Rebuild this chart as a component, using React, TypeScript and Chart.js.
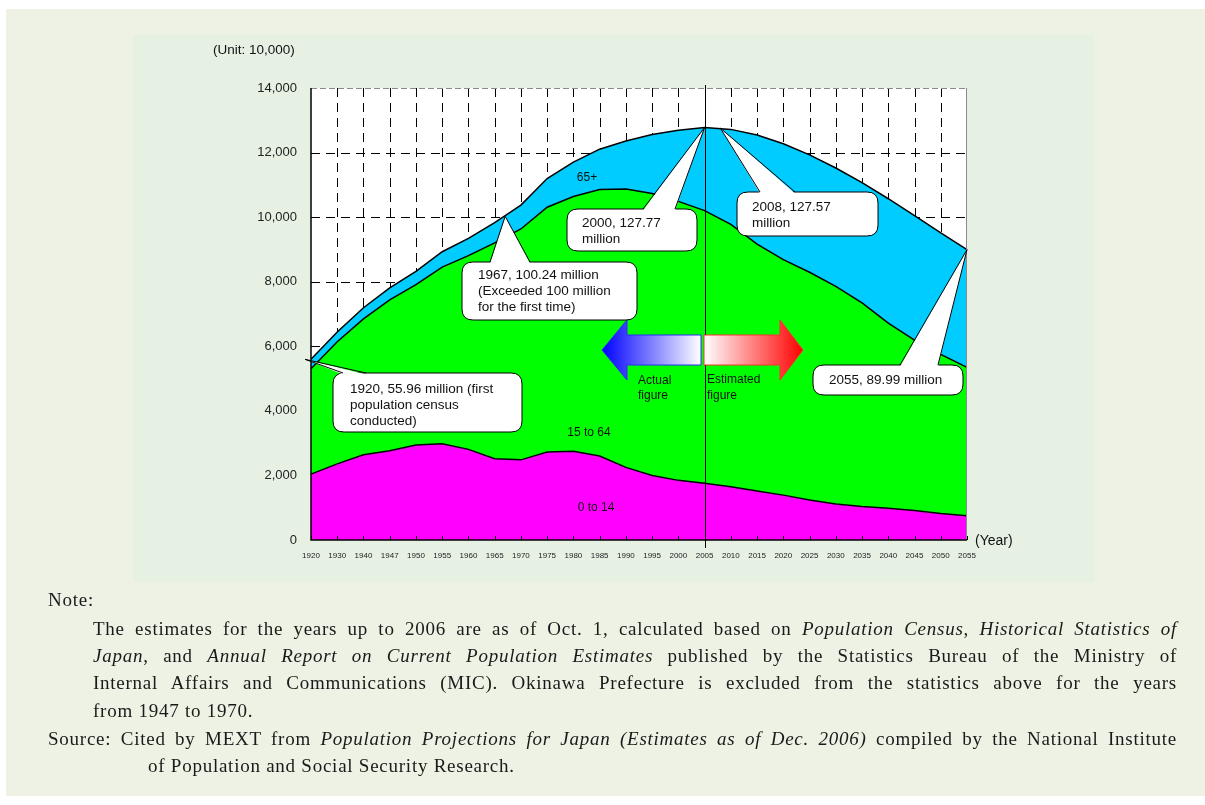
import React, { useEffect, useRef } from "react";
import { Chart, registerables } from "chart.js";

Chart.register(...registerables);

// Survey / projection years (category axis, evenly spaced)
const years = [
  "1920", "1930", "1940", "1947", "1950", "1955", "1960", "1965", "1970", "1975",
  "1980", "1985", "1990", "1995", "2000", "2005", "2010", "2015", "2020", "2025",
  "2030", "2035", "2040", "2045", "2050", "2055",
];

// Population by age group, unit: 10,000 people
const ages0to14 = [
  2041, 2359, 2638, 2762, 2943, 2980, 2807, 2517, 2482, 2722,
  2751, 2603, 2249, 2001, 1847, 1759, 1648, 1517, 1390, 1241,
  1115, 1035, 980, 916, 821, 752,
];
const ages15to64 = [
  3261, 3780, 4209, 4674, 4966, 5473, 6000, 6687, 7151, 7585,
  7890, 8255, 8623, 8730, 8642, 8442, 8129, 7648, 7294, 7051,
  6740, 6308, 5737, 5272, 4930, 4595,
];
const ages65plus = [
  294, 306, 346, 374, 411, 475, 535, 624, 739, 887,
  1065, 1247, 1489, 1826, 2204, 2576, 2941, 3378, 3590, 3635,
  3667, 3725, 3853, 3856, 3764, 3646,
];

const yMin = 0;
const yMax = 14000;
const yStep = 2000;
const estimateFrom = "2005";

const SANS = "'Liberation Sans', Arial, sans-serif";
const SERIF = "'Liberation Serif', 'Times New Roman', serif";

// Callout annotations: the pointer tip is placed on the axes from a year position and a value
type Callout = {
  lines: string[];
  box: [number, number, number, number]; // left, top, right, bottom
  base: [number, number]; // pointer base on the top edge (x from, x to)
  at: { index: number; frac: number; value: number; dx?: number };
  textX: number;
  textY: number;
};

const callouts: Callout[] = [
  {
    lines: ["1920, 55.96 million (first", "population census", "conducted)"],
    box: [333, 373, 522, 432],
    base: [343, 366],
    at: { index: 0, frac: 0, value: 5596, dx: -6 },
    textX: 350,
    textY: 389,
  },
  {
    lines: ["1967, 100.24 million", "(Exceeded 100 million", "for the first time)"],
    box: [462, 262, 637, 320],
    base: [490, 530],
    at: { index: 7, frac: 0.4, value: 10024 },
    textX: 478,
    textY: 275,
  },
  {
    lines: ["2000, 127.77", "million"],
    box: [567, 209, 697, 251],
    base: [643, 675],
    at: { index: 15, frac: 0, value: 12777 },
    textX: 582,
    textY: 223,
  },
  {
    lines: ["2008, 127.57", "million"],
    box: [737, 192, 878, 236],
    base: [760, 795],
    at: { index: 15, frac: 0.6, value: 12757 },
    textX: 752,
    textY: 207,
  },
  {
    lines: ["2055, 89.99 million"],
    box: [813, 365, 963, 395],
    base: [900, 938],
    at: { index: 25, frac: 0, value: 8993 },
    textX: 829,
    textY: 380,
  },
];

function roundRectPath(ctx: CanvasRenderingContext2D, l: number, t: number, r: number, b: number, rad: number) {
  ctx.beginPath();
  ctx.moveTo(l + rad, t);
  ctx.lineTo(r - rad, t);
  ctx.quadraticCurveTo(r, t, r, t + rad);
  ctx.lineTo(r, b - rad);
  ctx.quadraticCurveTo(r, b, r - rad, b);
  ctx.lineTo(l + rad, b);
  ctx.quadraticCurveTo(l, b, l, b - rad);
  ctx.lineTo(l, t + rad);
  ctx.quadraticCurveTo(l, t, l + rad, t);
  ctx.closePath();
}

const decorPlugin = {
  id: "decor",
  beforeDraw(chart: any) {
    const { ctx, chartArea: a } = chart;
    ctx.save();
    ctx.fillStyle = "#ffffff";
    ctx.fillRect(a.left, a.top, a.right - a.left, a.bottom - a.top);
    ctx.restore();
  },
  beforeDatasetsDraw(chart: any) {
    const { ctx, chartArea: a } = chart;
    const xs = chart.scales.x;
    const ys = chart.scales.y;
    ctx.save();
    ctx.strokeStyle = "#000";
    ctx.lineWidth = 1;
    ctx.setLineDash([9, 6]);
    for (let i = 1; i < years.length - 1; i++) {
      const x = Math.round(xs.getPixelForValue(i)) + 0.5;
      ctx.beginPath();
      ctx.moveTo(x, a.top);
      ctx.lineTo(x, a.bottom);
      ctx.stroke();
    }
    for (let v = yMin + yStep; v < yMax; v += yStep) {
      const y = Math.round(ys.getPixelForValue(v)) + 0.5;
      ctx.beginPath();
      ctx.moveTo(a.left, y);
      ctx.lineTo(a.right, y);
      ctx.stroke();
    }
    ctx.restore();
  },
  afterDatasetsDraw(chart: any) {
    const { ctx, chartArea: a } = chart;
    const xs = chart.scales.x;
    const ys = chart.scales.y;
    ctx.save();

    // frame: dashed grey top, grey right, black axes
    ctx.lineWidth = 1;
    ctx.strokeStyle = "#8a8a8a";
    ctx.setLineDash([6, 3]);
    ctx.beginPath();
    ctx.moveTo(a.left, a.top + 0.5);
    ctx.lineTo(a.right, a.top + 0.5);
    ctx.stroke();
    ctx.setLineDash([]);
    ctx.beginPath();
    ctx.moveTo(a.right - 0.5, a.top);
    ctx.lineTo(a.right - 0.5, a.bottom);
    ctx.stroke();
    ctx.strokeStyle = "#000";
    ctx.lineWidth = 1.5;
    ctx.beginPath();
    ctx.moveTo(a.left, a.top);
    ctx.lineTo(a.left, a.bottom);
    ctx.lineTo(a.right, a.bottom);
    ctx.stroke();

    // small inner tick marks along the year axis
    ctx.lineWidth = 1;
    for (let i = 0; i < years.length; i++) {
      const x = Math.round(xs.getPixelForValue(i)) + 0.5;
      ctx.beginPath();
      ctx.moveTo(x, a.bottom);
      ctx.lineTo(x, a.bottom - 4);
      ctx.stroke();
    }

    // divider between actual figures and estimates
    const xd = Math.round(xs.getPixelForValue(years.indexOf(estimateFrom))) + 0.5;
    ctx.beginPath();
    ctx.moveTo(xd, a.top - 3);
    ctx.lineTo(xd, a.bottom + 8);
    ctx.stroke();

    // age group labels
    ctx.fillStyle = "#111";
    ctx.font = `12px ${SANS}`;
    ctx.textAlign = "center";
    ctx.textBaseline = "middle";
    ctx.fillText("65+", 587, 178);
    ctx.fillText("15 to 64", 589, 433);
    ctx.fillText("0 to 14", 596, 508);

    // "actual" arrow (left, blue)
    const gBlue = ctx.createLinearGradient(602, 0, 701, 0);
    gBlue.addColorStop(0, "#0000ff");
    gBlue.addColorStop(1, "#ffffff");
    ctx.beginPath();
    ctx.moveTo(602, 350);
    ctx.lineTo(627, 320);
    ctx.lineTo(627, 335);
    ctx.lineTo(701, 335);
    ctx.lineTo(701, 365);
    ctx.lineTo(627, 365);
    ctx.lineTo(627, 380);
    ctx.closePath();
    ctx.fillStyle = gBlue;
    ctx.fill();
    ctx.strokeStyle = "#2a2aff";
    ctx.lineWidth = 1;
    ctx.stroke();

    // "estimated" arrow (right, red)
    const gRed = ctx.createLinearGradient(704, 0, 803, 0);
    gRed.addColorStop(0, "#ffffff");
    gRed.addColorStop(1, "#ff0000");
    ctx.beginPath();
    ctx.moveTo(704, 335);
    ctx.lineTo(780, 335);
    ctx.lineTo(780, 320);
    ctx.lineTo(803, 350);
    ctx.lineTo(780, 380);
    ctx.lineTo(780, 365);
    ctx.lineTo(704, 365);
    ctx.closePath();
    ctx.fillStyle = gRed;
    ctx.fill();
    ctx.strokeStyle = "#ff3030";
    ctx.stroke();

    ctx.fillStyle = "#111";
    ctx.textAlign = "left";
    ctx.fillText("Actual", 638, 381);
    ctx.fillText("figure", 638, 396);
    ctx.fillText("Estimated", 707, 380);
    ctx.fillText("figure", 707, 396);

    // callouts
    for (const c of callouts) {
      const [l, t, r, b] = c.box;
      const x0 = xs.getPixelForValue(c.at.index);
      const x1 = c.at.frac ? xs.getPixelForValue(c.at.index + 1) : x0;
      const tipX = x0 + (x1 - x0) * c.at.frac + (c.at.dx || 0);
      const tipY = ys.getPixelForValue(c.at.value);

      roundRectPath(ctx, l, t, r, b, 11);
      ctx.fillStyle = "#ffffff";
      ctx.fill();
      ctx.strokeStyle = "#000";
      ctx.lineWidth = 1;
      ctx.stroke();

      ctx.beginPath();
      ctx.moveTo(c.base[0], t + 1.5);
      ctx.lineTo(tipX, tipY);
      ctx.lineTo(c.base[1], t + 1.5);
      ctx.closePath();
      ctx.fill();
      ctx.beginPath();
      ctx.moveTo(c.base[0], t);
      ctx.lineTo(tipX, tipY);
      ctx.lineTo(c.base[1], t);
      ctx.stroke();

      ctx.fillStyle = "#111";
      ctx.font = `13.5px ${SANS}`;
      ctx.textAlign = "left";
      ctx.textBaseline = "middle";
      c.lines.forEach((s, k) => ctx.fillText(s, c.textX, c.textY + k * 16));
    }

    // axis captions
    ctx.fillStyle = "#111";
    ctx.font = `14px ${SANS}`;
    ctx.textAlign = "left";
    ctx.textBaseline = "middle";
    ctx.fillText("(Year)", a.right + 8, a.bottom + 1);
    ctx.font = `13.5px ${SANS}`;
    ctx.fillText("(Unit: 10,000)", 213, 50);

    ctx.restore();
  },
};

const noteLines = [
  { top: 629, left: 93, width: 1084, justify: true, html: "The estimates for the years up to 2006 are as of Oct. 1, calculated based on <i>Population Census</i>, <i>Historical Statistics of</i>" },
  { top: 656, left: 93, width: 1084, justify: true, html: "<i>Japan</i>, and <i>Annual Report on Current Population Estimates</i> published by the Statistics Bureau of the Ministry of" },
  { top: 683, left: 93, width: 1084, justify: true, html: "Internal Affairs and Communications (MIC). Okinawa Prefecture is excluded from the statistics above for the years" },
  { top: 711, left: 93, width: 1084, justify: false, html: "from 1947 to 1970." },
  { top: 739, left: 48, width: 1129, justify: true, html: "Source: Cited by MEXT from <i>Population Projections for Japan (Estimates as of Dec. 2006)</i> compiled by the National Institute" },
  { top: 766, left: 148, width: 1029, justify: false, html: "of Population and Social Security Research." },
];

const noteFont = {
  fontFamily: SERIF,
  fontSize: 19,
  letterSpacing: "0.75px",
  color: "#1a1a1a",
  lineHeight: "22px",
};

export default function App() {
  const canvasRef = useRef<HTMLCanvasElement | null>(null);

  useEffect(() => {
    const canvas = canvasRef.current;
    if (!canvas) return;
    const chart = new Chart(canvas, {
      type: "line",
      data: {
        labels: years,
        datasets: [
          {
            label: "0 to 14",
            data: ages0to14,
            backgroundColor: "#ff00ff",
            borderColor: "#000",
            borderWidth: 1.5,
            fill: "origin",
            pointRadius: 0,
            tension: 0,
          },
          {
            label: "15 to 64",
            data: ages15to64,
            backgroundColor: "#00ff00",
            borderColor: "#000",
            borderWidth: 1.5,
            fill: "-1",
            pointRadius: 0,
            tension: 0,
          },
          {
            label: "65+",
            data: ages65plus,
            backgroundColor: "#00ccff",
            borderColor: "#000",
            borderWidth: 1.5,
            fill: "-1",
            pointRadius: 0,
            tension: 0,
          },
        ],
      },
      options: {
        animation: false,
        responsive: false,
        devicePixelRatio: 1,
        layout: { padding: { top: 88, right: 238, bottom: 0, left: 0 } },
        plugins: {
          legend: { display: false },
          tooltip: { enabled: false },
        },
        scales: {
          x: {
            type: "category",
            offset: false,
            grid: { display: false, drawTicks: false },
            border: { display: false },
            ticks: {
              autoSkip: false,
              maxRotation: 0,
              minRotation: 0,
              padding: 11,
              color: "#222",
              font: { family: SANS, size: 8 },
            },
            afterFit(s: any) {
              s.height = 265;
            },
          },
          y: {
            stacked: true,
            min: yMin,
            max: yMax,
            grid: { display: false, drawTicks: false },
            border: { display: false },
            ticks: {
              stepSize: yStep,
              padding: 14,
              color: "#222",
              font: { family: SANS, size: 13 },
              callback: (v: any) => Number(v).toLocaleString("en-US"),
            },
            afterFit(s: any) {
              s.width = 311;
            },
          },
        },
      },
      plugins: [decorPlugin],
    });
    return () => chart.destroy();
  }, []);

  return (
    <div style={{ position: "absolute", left: 0, top: 0, width: 1205, height: 805, background: "#ffffff", overflow: "hidden" }}>
      <div style={{ position: "absolute", left: 6, top: 9, width: 1199, height: 787, background: "#edf2e4" }} />
      <div style={{ position: "absolute", left: 133, top: 35, width: 961, height: 547, background: "#e6f1e4" }} />
      <canvas ref={canvasRef} width={1205} height={805} style={{ position: "absolute", left: 0, top: 0 }} />
      <div style={{ position: "absolute", left: 48, top: 600 - 11, ...noteFont }}>Note:</div>
      {noteLines.map((ln, i) => (
        <div
          key={i}
          style={{
            position: "absolute",
            left: ln.left,
            top: ln.top - 11,
            width: ln.width,
            height: 22,
            ...noteFont,
            textAlign: ln.justify ? "justify" : "left",
            textAlignLast: ln.justify ? "justify" : "left",
          }}
          dangerouslySetInnerHTML={{ __html: ln.html }}
        />
      ))}
    </div>
  );
}
